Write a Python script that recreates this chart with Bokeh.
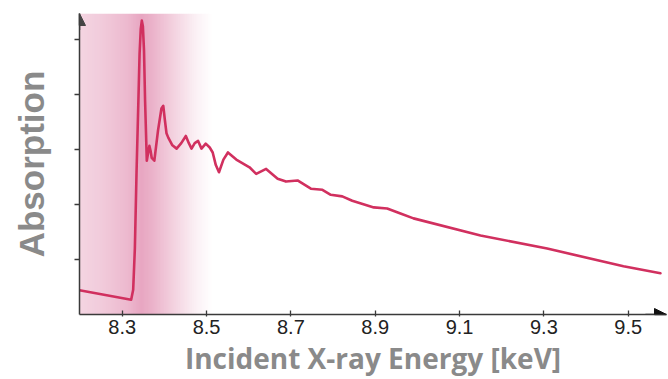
import numpy as np
from bokeh.plotting import figure
from bokeh.models import Range1d, Arrow, NormalHead, FixedTicker
from bokeh.embed import file_html
from bokeh.resources import INLINE

# ---- data ----
energy_kev = [8.1987, 8.3212, 8.3260, 8.3300, 8.3340, 8.3384, 8.3412, 8.3440,
              8.3465, 8.3490, 8.3517, 8.3542, 8.3583, 8.3615, 8.3644, 8.3672,
              8.3700, 8.3762, 8.3849, 8.3930, 8.3974, 8.4010, 8.4050,
              8.4092, 8.4190, 8.4290, 8.4400, 8.4509, 8.4580, 8.4644, 8.4720,
              8.4800, 8.4880, 8.4981, 8.5075, 8.5146, 8.5220, 8.5295, 8.5400,
              8.5507, 8.5705, 8.6019, 8.6177, 8.6413, 8.6686, 8.6884, 8.7158,
              8.7474, 8.7748, 8.7946, 8.8219, 8.8455, 8.8966, 8.9284, 8.9599,
              8.9908, 9.1497, 9.3078, 9.4888, 9.5765]
absorption = [0.44, 0.27, 0.45, 1.20, 2.60, 3.90, 4.75, 5.20,
              5.35, 5.25, 4.80, 3.90, 2.80, 2.95, 3.07, 2.98,
              2.85, 2.80, 3.35, 3.75, 3.80, 3.55, 3.30,
              3.22, 3.08, 3.02, 3.12, 3.25, 3.12, 3.02, 3.12,
              3.16, 3.02, 3.11, 3.04, 2.95, 2.72, 2.59, 2.82,
              2.95, 2.82, 2.68, 2.56, 2.65, 2.47, 2.42, 2.44,
              2.29, 2.27, 2.18, 2.15, 2.07, 1.95, 1.93, 1.84,
              1.75, 1.44, 1.20, 0.88, 0.75]
x_ticks = [8.3, 8.5, 8.7, 8.9, 9.1, 9.3, 9.5]
x_tick_labels = ["8.3", "8.5", "8.7", "8.9", "9.1", "9.3", "9.5"]
y_ticks = [1, 2, 3, 4, 5]

# shaded edge region and its gradient stops
shade_x = [8.1987, 8.25, 8.31, 8.345, 8.37, 8.42, 8.47, 8.515]
shade_alpha = [0.22, 0.27, 0.36, 0.46, 0.40, 0.24, 0.09, 0.0]
shade_rgb = (204, 60, 120)

X0, X1 = 8.1987, 9.5908
Y0, Y1 = 0.0, 5.48

p = figure(frame_width=587, frame_height=301,
           x_range=Range1d(X0, X1), y_range=Range1d(Y0, Y1),
           output_backend="svg", toolbar_location=None,
           min_border_left=79, min_border_right=2, min_border_top=13,
           min_border_bottom=60)
p.outline_line_color = None
p.xgrid.grid_line_color = None
p.ygrid.grid_line_color = None
p.background_fill_color = "white"

# gradient shading as a one-row RGBA image
ncol = 300
cx = np.linspace(shade_x[0], shade_x[-1], ncol)
a = np.interp(cx, shade_x, shade_alpha)
img = np.zeros((1, ncol), dtype=np.uint32)
view = img.view(dtype=np.uint8).reshape((1, ncol, 4))
view[0, :, 0] = shade_rgb[0]
view[0, :, 1] = shade_rgb[1]
view[0, :, 2] = shade_rgb[2]
view[0, :, 3] = (a * 255).astype(np.uint8)
p.image_rgba(image=[img], x=shade_x[0], y=Y0,
             dw=shade_x[-1] - shade_x[0], dh=Y1 - Y0)

# spectrum
p.line(energy_kev, absorption, line_color="#d1305f", line_width=2.6,
       line_join="round", line_cap="round")

# axes
axis_col = "#3a3a3a"
for ax in (p.xaxis[0], p.yaxis[0]):
    ax.axis_line_color = axis_col
    ax.axis_line_width = 1.5
    ax.major_tick_line_color = axis_col
    ax.major_tick_line_width = 1.3
    ax.minor_tick_line_color = None
    ax.axis_label_text_font_style = "bold"
    ax.axis_label_text_color = "#8a8a8a"

p.xaxis.ticker = FixedTicker(ticks=x_ticks)
p.xaxis.major_label_overrides = {t: l for t, l in zip(x_ticks, x_tick_labels)}
p.xaxis.major_label_text_font = "Liberation Sans"
p.xaxis.major_label_text_font_size = "20px"
p.xaxis.major_label_text_color = "#222222"
p.xaxis.major_tick_in = 4
p.xaxis.major_tick_out = 2
p.xaxis.major_label_standoff = 3
p.xaxis.axis_label = "Incident X-ray Energy [keV]"
p.xaxis.axis_label_text_font = "Open Sans"
p.xaxis.axis_label_text_font_size = "28px"
p.xaxis.axis_label_standoff = 2

p.yaxis.ticker = FixedTicker(ticks=y_ticks)
p.yaxis.major_label_overrides = {t: "" for t in y_ticks}
p.yaxis.major_tick_in = 0
p.yaxis.major_tick_out = 5
p.yaxis.axis_label = "Absorption"
p.yaxis.axis_label_text_font = "Liberation Sans"
p.yaxis.axis_label_text_font_size = "35px"
p.yaxis.axis_label_standoff = 24

# axis arrow heads
p.add_layout(Arrow(end=NormalHead(size=12, fill_color="#444444", line_color="#444444"),
                   x_start=X0, y_start=Y1 - 0.3, x_end=X0, y_end=Y1,
                   line_color=axis_col, line_width=1.5))
p.add_layout(Arrow(end=NormalHead(size=12, fill_color="#111111", line_color="#111111"),
                   x_start=X1 - 0.05, y_start=Y0, x_end=X1, y_end=Y0,
                   line_color=axis_col, line_width=1.5))

open("out.html", "w").write(file_html(p, INLINE))
